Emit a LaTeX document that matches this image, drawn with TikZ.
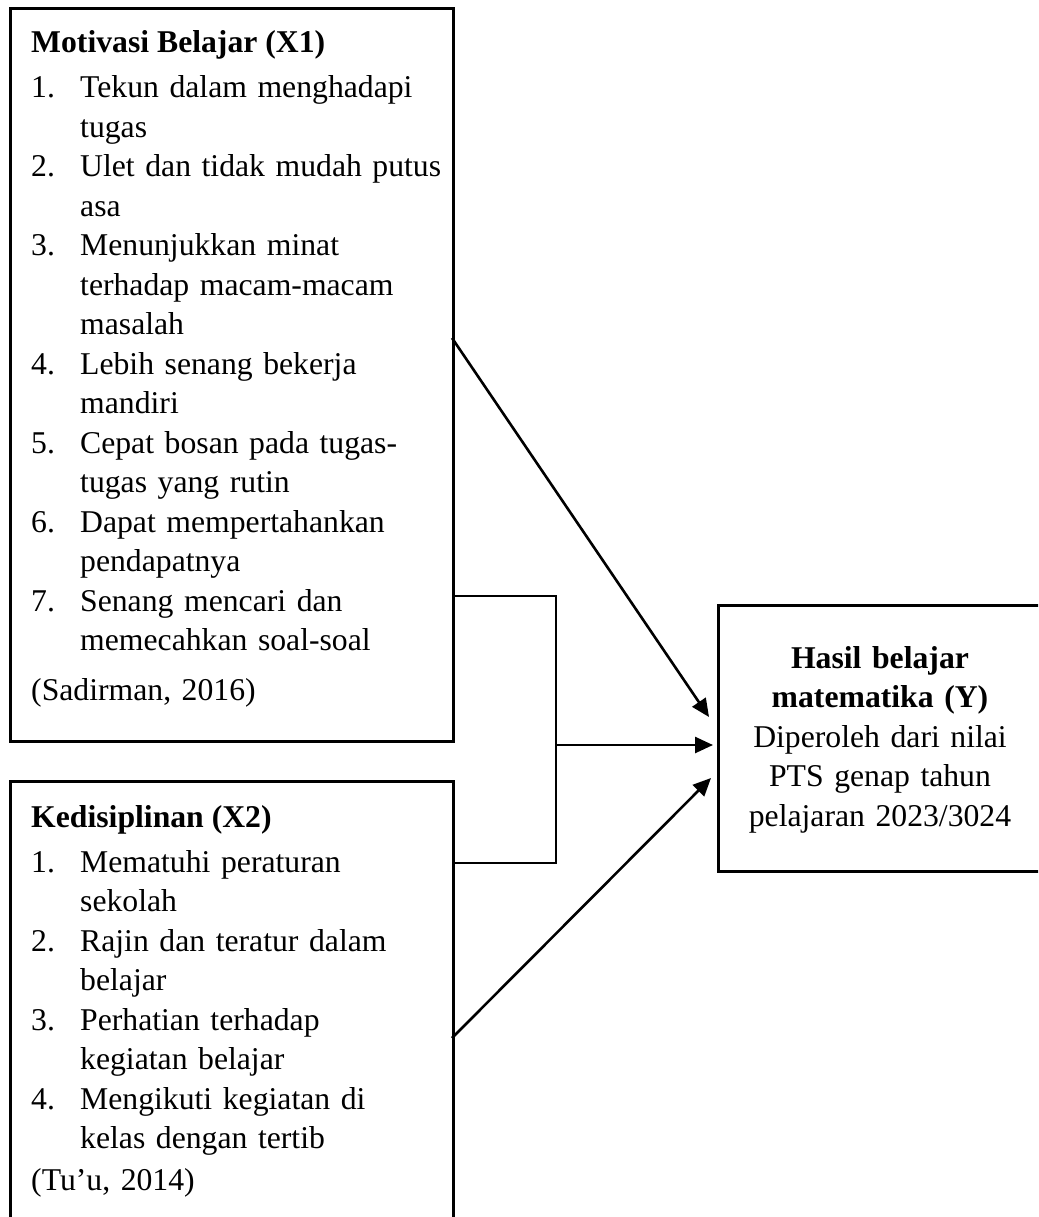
\documentclass[tikz,border=0pt]{standalone}
\usepackage{fontspec}
\setmainfont{Liberation Serif}
\usepackage{tikz}
\usetikzlibrary{positioning,arrows.meta,calc}

\newcommand{\itemno}[1]{\makebox[49pt][l]{#1}}
\newcommand{\itemgap}{\hspace*{49pt}}

\begin{document}
\begin{tikzpicture}[x=1pt, y=-1pt,
    box/.style={draw, line width=2.8pt, inner sep=0pt, anchor=north west},
    txt/.style={inner sep=0pt, anchor=base west, text width=440pt, align=left,
                font=\fontsize{31.7}{39.5}\selectfont},
    ttl/.style={inner sep=0pt, anchor=base west, font=\fontsize{31.7}{39.5}\selectfont\bfseries},
    link/.style={line width=2.6pt},
    arr/.style={line width=2.6pt, -{Triangle[length=18pt, width=16pt]}}]

    \useasboundingbox (0,0) rectangle (1038,1217);
    \clip (0,0) rectangle (1038,1217);

    % Motivasi belajar (X1)
    \node[box, minimum width=443pt, minimum height=733pt] (x1box) at (9,7) {};
    \node[ttl] (x1title) at (31,53) {Motivasi Belajar (X1)};
    \node[txt] (x1list) at (31,98) {%
        \itemno{1.}Tekun dalam menghadapi\\
        \itemgap tugas\\
        \itemno{2.}Ulet dan tidak mudah putus\\
        \itemgap asa\\
        \itemno{3.}Menunjukkan minat\\
        \itemgap terhadap macam-macam\\
        \itemgap masalah\\
        \itemno{4.}Lebih senang bekerja\\
        \itemgap mandiri\\
        \itemno{5.}Cepat bosan pada tugas-\\
        \itemgap tugas yang rutin\\
        \itemno{6.}Dapat mempertahankan\\
        \itemgap pendapatnya\\
        \itemno{7.}Senang mencari dan\\
        \itemgap memecahkan soal-soal};
    \node[txt] (x1cite) at (31,700) {(Sadirman, 2016)};

    % Kedisiplinan (X2)
    \node[box, minimum width=443pt, minimum height=480pt] (x2box) at (9,780) {};
    \node[ttl] (x2title) at (31,827) {Kedisiplinan (X2)};
    \node[txt] (x2list) at (31,872) {%
        \itemno{1.}Mematuhi peraturan\\
        \itemgap sekolah\\
        \itemno{2.}Rajin dan teratur dalam\\
        \itemgap belajar\\
        \itemno{3.}Perhatian terhadap\\
        \itemgap kegiatan belajar\\
        \itemno{4.}Mengikuti kegiatan di\\
        \itemgap kelas dengan tertib};
    \node[txt] (x2cite) at (31,1190) {(Tu'u, 2014)};

    % Hasil belajar (Y)
    \node[box, minimum width=326pt, minimum height=266pt] (ybox) at (717,604) {};
    \node[inner sep=0pt, anchor=base, text width=330pt, align=center,
          font=\fontsize{31.7}{39.5}\selectfont] (ytext) at (880,668)
        {\textbf{Hasil belajar}\\ \textbf{matematika (Y)}\\
         Diperoleh dari nilai\\ PTS genap tahun\\ pelajaran 2023/3024};

    % connector points
    \coordinate (x1out) at (452,338);
    \coordinate (x1join) at (452,596);
    \coordinate (x2join) at (452,863);
    \coordinate (x2out) at (452,1038);
    \coordinate (jtop) at (556,596);
    \coordinate (jbot) at (556,863);
    \coordinate (jmid) at (556,745);
    \coordinate (yin1) at (709,717);
    \coordinate (yin2) at (713,745);
    \coordinate (yin3) at (711,778);

    % bracket joining X1 and X2
    \draw[link] (x1join) -- (jtop) -- (jbot) -- (x2join);

    % arrows to Y
    \draw[arr] (x1out) -- (yin1);
    \draw[arr] (jmid) -- (yin2);
    \draw[arr] (x2out) -- (yin3);
\end{tikzpicture}
\end{document}
